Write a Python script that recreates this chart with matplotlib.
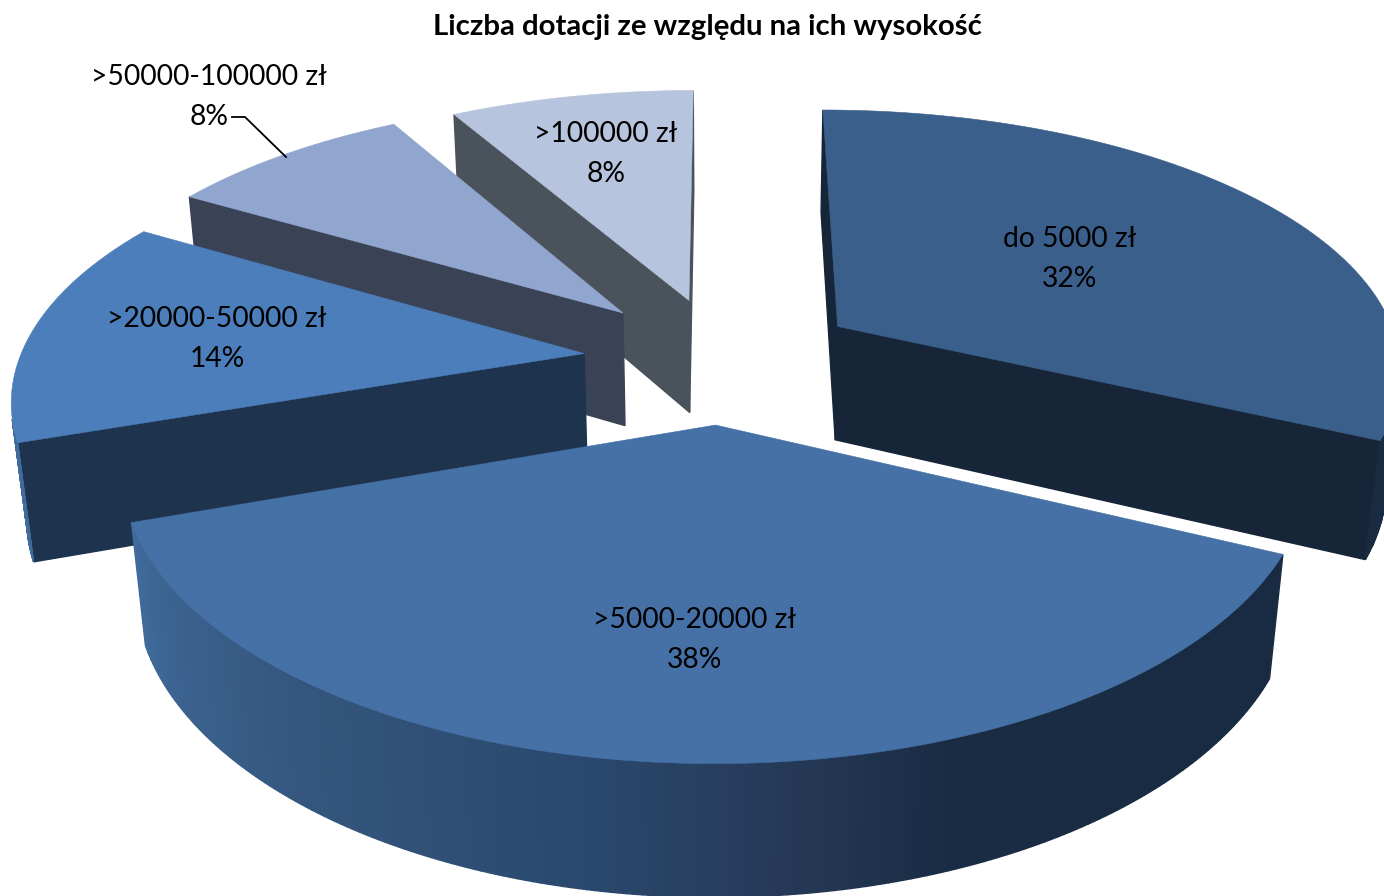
import numpy as np
import matplotlib
matplotlib.use('Agg')
import matplotlib.pyplot as plt
from matplotlib.colors import to_rgb

title = 'Liczba dotacji ze względu na ich wysokość'
categories = ['do 5000 zł', '>5000-20000 zł', '>20000-50000 zł', '>50000-100000 zł', '>100000 zł']
# the labels show them rounded
shares = [32, 37.7, 13.8, 8.3, 8.2]
top_colors = ['#3a5f8b', '#4571a6', '#4b7ebb', '#91a6ce', '#b7c4dd']
face_colors = ['#162638', '#1a2c44', '#1e334d', '#3a4255', '#4a525b']
wall_stops_theta = [90, 160, 175, 190, 220, 250, 360]
wall_stops_color = ['#172a40', '#1a2c44', '#263a58', '#2a486d', '#35577f', '#3f6a9a', '#4a7ebb']
label_xy = [(1070, 259), (695, 640), (217, 339), (209, 97), (606, 154)]
explode = [0.245, 0.24, 0.248, 0.26, 0.245]

# projection of the pie, all in image pixels
cx, cy = 723, 360
rad_x, rad_y = 565, 261
persp_x, persp_y = 0.15, 0.16
depth = 115
squeeze = 0.022
draw_order = [4, 3, 2, 0, 1]


def project(x, y, z=0):
    sx = cx + rad_x * x / (1 + persp_x * y + squeeze * z)
    sy = cy - rad_y * y / (1 + persp_y * y) + depth * z / (1 + persp_x * y * 0.75)
    return sx, sy


def rim(theta, off):
    t = np.radians(theta)
    return np.sin(t) + off[0], np.cos(t) + off[1]


def shoelace(px, py):
    return 0.5 * np.sum(px * np.roll(py, -1) - np.roll(px, -1) * py)


def wall_color(theta):
    t = ((theta - 90) % 360) + 90
    rgb = np.array([to_rgb(c) for c in wall_stops_color])
    return [np.interp(t, wall_stops_theta, rgb[:, i]) for i in range(3)]


def quad(ax, pts, color, sign):
    px = np.array([p[0] for p in pts])
    py = np.array([p[1] for p in pts])
    if shoelace(px, py) * sign > 0:
        ax.fill(px, py, color=color, lw=1.0, zorder=ax.zo)
        ax.zo += 0.001


def draw_slice(ax, start, end, top_col, face_col, ex):
    mid = np.radians((start + end) / 2)
    off = (ex * np.sin(mid), ex * np.cos(mid))
    thetas = np.linspace(start, end, 200)
    # cut faces
    for theta, sign in ((start, -1), (end, 1)):
        rx, ry = rim(theta, off)
        quad(ax, [project(*off), project(rx, ry), project(rx, ry, 1), project(*off, 1)], face_col, sign)
    # outer wall
    for a, b in zip(thetas[:-1], thetas[1:]):
        ra, rb = rim(a, off), rim(b, off)
        quad(ax, [project(*ra), project(*rb), project(*rb, 1), project(*ra, 1)], wall_color((a + b) / 2), -1)
    # top
    xs, ys = zip(*[project(*rim(t, off)) for t in thetas])
    ax_, ay_ = project(*off)
    ax.fill([ax_, *xs], [ay_, *ys], color=top_col, lw=0.4, zorder=ax.zo)
    ax.zo += 0.001


plt.rcParams['font.family'] = ['Lato', 'DejaVu Sans']

fig = plt.figure(figsize=(13.84, 8.96), dpi=100)
ax = fig.add_axes([0, 0, 1, 1])
ax.set_xlim(0, 1384)
ax.set_ylim(896, 0)
ax.axis('off')
ax.zo = 1

edges = np.cumsum([0] + shares) / sum(shares) * 360
for i in draw_order:
    draw_slice(ax, edges[i], edges[i + 1], top_colors[i], face_colors[i], explode[i])

for name, share, (lx, ly) in zip(categories, shares, label_xy):
    ax.text(lx, ly, f'{name}\n{share:.0f}%', ha='center', va='center', fontsize=20.3,
            color='black', linespacing=1.65, zorder=10)

ax.plot([232, 245, 286], [117, 117, 157], color='black', lw=1.3, zorder=9)
ax.text(707, 27, title, ha='center', va='center', fontsize=21.2, fontweight='bold', zorder=10)

fig.savefig('out.png', dpi=100)
